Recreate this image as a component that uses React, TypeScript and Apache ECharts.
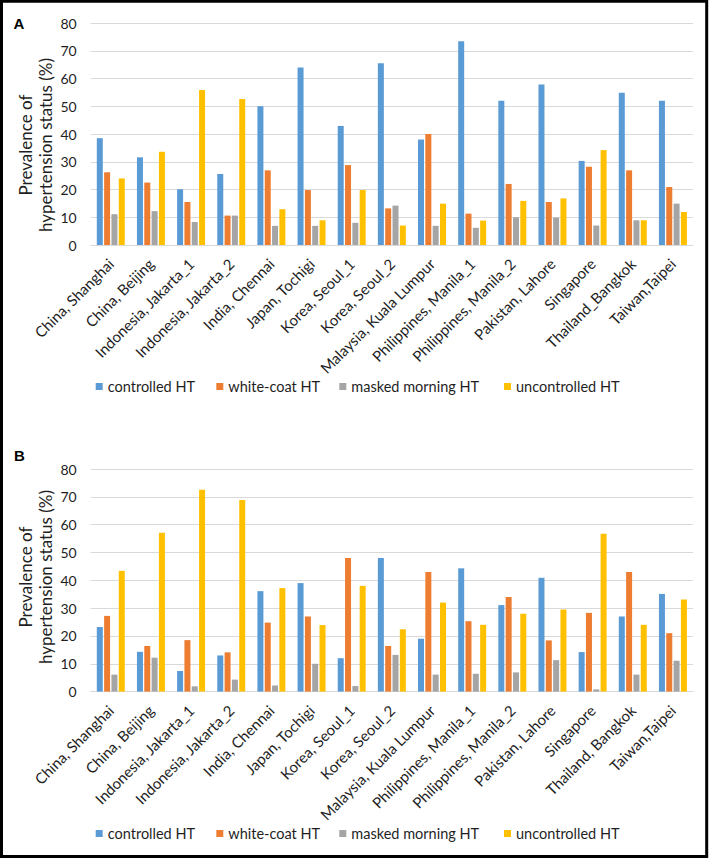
import React, { useEffect, useRef } from "react";
import * as echarts from "echarts";

const categoriesA = [
  "China, Shanghai", "China, Beijing", "Indonesia, Jakarta_1", "Indonesia, Jakarta_2",
  "India, Chennai", "Japan, Tochigi", "Korea, Seoul_1", "Korea, Seoul_2",
  "Malaysia, Kuala Lumpur", "Philippines, Manila_1", "Philippines, Manila_2",
  "Pakistan, Lahore", "Singapore", "Thailand_Bangkok", "Taiwan,Taipei",
];
const categoriesB = [
  "China, Shanghai", "China, Beijing", "Indonesia, Jakarta_1", "Indonesia, Jakarta_2",
  "India, Chennai", "Japan, Tochigi", "Korea, Seoul_1", "Korea, Seoul_2",
  "Malaysia, Kuala Lumpur", "Philippines, Manila_1", "Philippines, Manila_2",
  "Pakistan, Lahore", "Singapore", "Thailand, Bangkok", "Taiwan,Taipei",
];
const seriesNames = ["controlled HT", "white-coat HT", "masked morning HT", "uncontrolled HT"];
const yTicks = [0, 10, 20, 30, 40, 50, 60, 70, 80];

const controlledA = [38.5, 31.6, 20.1, 25.6, 50.0, 64.0, 42.9, 65.5, 38.0, 73.4, 52.0, 57.8, 30.3, 54.9, 52.0];
const whiteCoatA = [26.2, 22.5, 15.5, 10.6, 26.9, 19.8, 28.8, 13.2, 40.0, 11.3, 22.0, 15.5, 28.2, 26.9, 20.9];
const maskedA = [11.1, 12.2, 8.3, 10.6, 6.9, 6.9, 8.0, 14.2, 6.9, 6.2, 10.0, 9.9, 7.0, 8.9, 14.9];
const uncontrolledA = [24.0, 33.6, 55.9, 52.6, 12.9, 8.9, 19.8, 7.0, 14.9, 8.8, 15.9, 16.8, 34.2, 8.9, 11.9];

const controlledB = [23.2, 14.3, 7.4, 13.0, 36.1, 39.0, 12.0, 48.0, 19.0, 44.3, 31.1, 40.9, 14.2, 27.0, 35.1];
const whiteCoatB = [27.2, 16.4, 18.5, 14.1, 24.8, 27.0, 48.0, 16.4, 43.0, 25.3, 34.0, 18.4, 28.3, 43.0, 21.0];
const maskedB = [6.1, 12.2, 1.9, 4.3, 2.2, 10.0, 2.0, 13.2, 6.1, 6.4, 6.9, 11.3, 0.8, 6.1, 11.1];
const uncontrolledB = [43.4, 57.1, 72.5, 68.9, 37.2, 23.9, 38.0, 22.4, 32.0, 24.0, 28.0, 29.5, 56.7, 24.0, 33.1];

const colors = ["#5B9BD5", "#ED7D31", "#A5A5A5", "#FFC000"];
const FONT = "Lato, 'Open Sans', sans-serif";
const TEXT = "#1f1f1f";

export default function App() {
  const ref = useRef<HTMLDivElement>(null);
  useEffect(() => {
    if (!ref.current) return;
    const chart = echarts.init(ref.current, undefined, { renderer: "svg" });
    const dataA = [controlledA, whiteCoatA, maskedA, uncontrolledA];
    const dataB = [controlledB, whiteCoatB, maskedB, uncontrolledB];

    const xAxis = (cats: string[], gridIndex: number) => ({
      type: "category",
      gridIndex,
      data: cats,
      axisTick: { show: false },
      axisLine: { lineStyle: { color: "#d9d9d9", width: 1 } },
      axisLabel: {
        rotate: 45,
        interval: 0,
        margin: 16,
        fontSize: 15,
        fontFamily: FONT,
        color: TEXT,
      },
    });
    const yAxis = (gridIndex: number) => ({
      type: "value",
      gridIndex,
      min: yTicks[0],
      max: yTicks[yTicks.length - 1],
      interval: 10,
      axisLine: { show: false },
      axisTick: { show: false },
      splitLine: { lineStyle: { color: "#d9d9d9", width: 1 } },
      axisLabel: { margin: 14, fontSize: 14, fontFamily: FONT, color: TEXT },
    });

    const series: any[] = [];
    [dataA, dataB].forEach((set, gi) => {
      set.forEach((vals, si) => {
        series.push({
          type: "bar",
          name: seriesNames[si],
          xAxisIndex: gi,
          yAxisIndex: gi,
          data: vals,
          barWidth: 6,
          barGap: "22%",
          itemStyle: { color: colors[si] },
        });
      });
    });

    const legendLefts = [95.7, 216.3, 339.3, 504];
    const legends: any[] = [];
    [379, 826].forEach((top) => {
      seriesNames.forEach((n, i) => {
        legends.push({
          data: [n],
          left: legendLefts[i],
          top,
          padding: 0,
          itemWidth: 7,
          itemHeight: 7,
          icon: "rect",
          selectedMode: false,
          textStyle: { fontSize: 14.5, fontFamily: FONT, color: TEXT },
        });
      });
    });

    const titleText = "Prevalence of\nhypertension status (%)";
    const titleStyle = {
      text: titleText,
      fontSize: 17,
      lineHeight: 20,
      fontFamily: FONT,
      fill: TEXT,
      align: "center",
      verticalAlign: "middle",
    };
    const panelLetter = (t: string) => ({
      text: t,
      fontSize: 15,
      fontWeight: "bold",
      fontFamily: "'Liberation Sans', Arial, sans-serif",
      fill: "#000",
      align: "center",
      verticalAlign: "middle",
    });
    chart.setOption({
      animation: false,
      backgroundColor: "#fff",
      color: colors,
      grid: [
        { left: 90.7, right: 16, top: 23, height: 222, containLabel: false },
        { left: 90.7, right: 16, top: 469, height: 222.6, containLabel: false },
      ],
      xAxis: [xAxis(categoriesA, 0), xAxis(categoriesB, 1)],
      yAxis: [yAxis(0), yAxis(1)],
      legend: legends,
      series,
      graphic: [
        {
          type: "rect",
          shape: { x: 1.5, y: 1.3, width: 705.2, height: 855.3 },
          style: { fill: "none", stroke: "#000", lineWidth: 3 },
          silent: true,
        },
        { type: "text", x: 19, y: 23, style: panelLetter("A") },
        { type: "text", x: 19.5, y: 455, style: panelLetter("B") },
        { type: "text", x: 35, y: 145, rotation: Math.PI / 2, style: titleStyle },
        { type: "text", x: 35, y: 577, rotation: Math.PI / 2, style: titleStyle },
      ],
    });
    return () => chart.dispose();
  }, []);
  return (
    <div
      ref={ref}
      style={{ position: "absolute", left: 0, top: 0, width: 709, height: 858 }}
    />
  );
}
